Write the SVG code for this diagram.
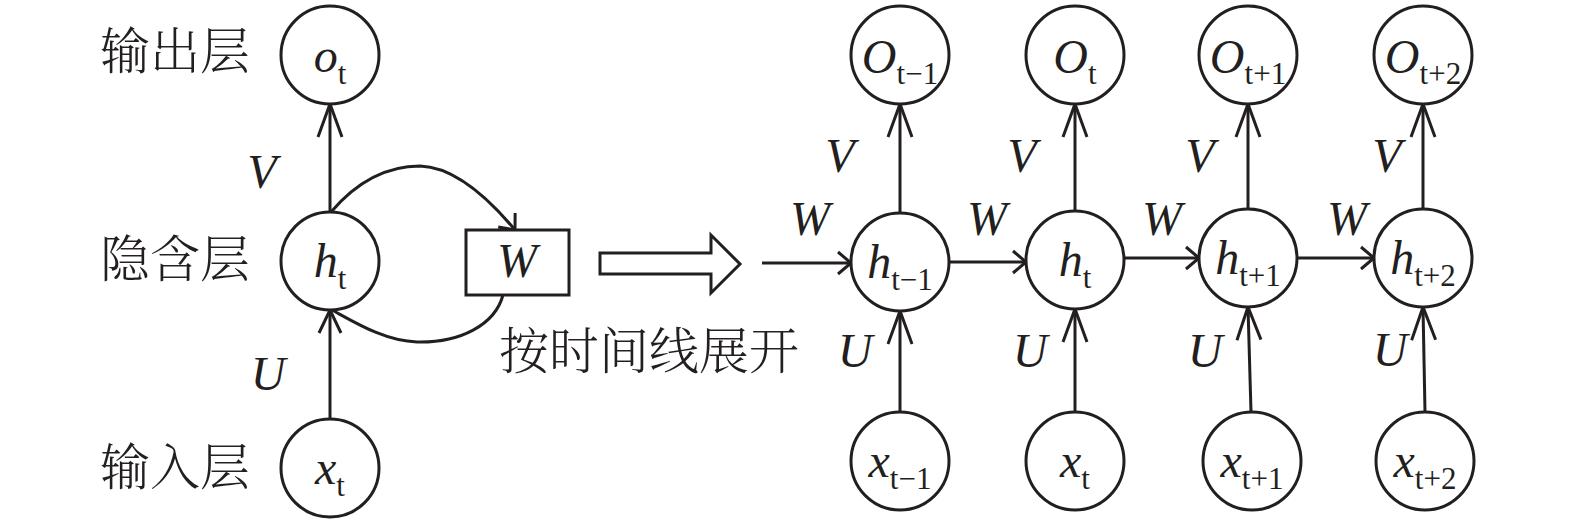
<svg xmlns="http://www.w3.org/2000/svg" width="1575" height="523" viewBox="0 0 1575 523">
<style>
.c{fill:#fff;stroke:#231f20;stroke-width:3}
.l{fill:none;stroke:#231f20;stroke-width:3}
.m{font-family:"Liberation Serif","Times New Roman",serif;font-style:italic;font-size:48px;fill:#231f20}
.s{font-family:"Liberation Serif","Times New Roman",serif;font-style:normal;font-size:31px}
.z{font-family:"Noto Serif CJK SC","Noto Sans CJK SC","Noto Sans CJK JP",sans-serif;font-size:50px;font-weight:300;fill:#231f20}
</style>
<defs>
<marker id="aL" markerUnits="userSpaceOnUse" orient="auto" refX="0" refY="0" markerWidth="40" markerHeight="30" overflow="visible"><path d="M-33,-12 L0,0 L-33,12" fill="none" stroke="#231f20" stroke-width="3"/></marker>
<marker id="aM" markerUnits="userSpaceOnUse" orient="auto" refX="0" refY="0" markerWidth="40" markerHeight="30" overflow="visible"><path d="M-23,-11 L0,0 L-23,11" fill="none" stroke="#231f20" stroke-width="3"/></marker>
<marker id="aS" markerUnits="userSpaceOnUse" orient="auto" refX="0" refY="0" markerWidth="30" markerHeight="30" overflow="visible"><path d="M-13,-11 L0,0 L-13,11" fill="none" stroke="#231f20" stroke-width="3"/></marker>
</defs>

<g id="labels">
<text class="z" x="100" y="69">输出层</text>
<text class="z" x="100" y="277">隐含层</text>
<text class="z" x="100" y="485">输入层</text>
<text class="z" x="499" y="369">按时间线展开</text>
</g>

<g id="connectors">
<line class="l" x1="330" y1="213" x2="330" y2="104" marker-end="url(#aL)"/>
<line class="l" x1="330" y1="418" x2="330" y2="310" marker-end="url(#aM)"/>
<path class="l" d="M331,212 C360,178 392,166 420,166 C455,167 490,200 515,230" marker-end="url(#aS)"/>
<path class="l" d="M503,295 C495,325 460,343 417,342 C385,341 356,323 332,310"/>
<polygon class="c" points="600,253 711,253 711,235 740,264 711,293 711,274 600,274"/>
<line class="l" x1="762" y1="263" x2="851" y2="263" marker-end="url(#aS)"/>
<line class="l" x1="949" y1="262" x2="1026" y2="262" marker-end="url(#aS)"/>
<line class="l" x1="1124" y1="258" x2="1199" y2="258" marker-end="url(#aS)"/>
<line class="l" x1="1297" y1="258" x2="1374" y2="258" marker-end="url(#aS)"/>
<line class="l" x1="900" y1="213" x2="900" y2="104" marker-end="url(#aL)"/>
<line class="l" x1="1075" y1="211" x2="1075" y2="104" marker-end="url(#aL)"/>
<line class="l" x1="1248" y1="209" x2="1248" y2="104" marker-end="url(#aL)"/>
<line class="l" x1="1423" y1="209" x2="1423" y2="104" marker-end="url(#aL)"/>
<line class="l" x1="900" y1="412" x2="900" y2="311" marker-end="url(#aL)"/>
<line class="l" x1="1075" y1="412" x2="1075" y2="309" marker-end="url(#aL)"/>
<line class="l" x1="1251" y1="412" x2="1248" y2="307" marker-end="url(#aL)"/>
<line class="l" x1="1425" y1="412" x2="1423" y2="307" marker-end="url(#aL)"/>
</g>

<g id="edge-labels">
<text class="m" x="262" y="188" text-anchor="middle">V</text>
<text class="m" x="268" y="390" text-anchor="middle">U</text>
<text class="m" x="840" y="172" text-anchor="middle">V</text>
<text class="m" x="1022" y="172" text-anchor="middle">V</text>
<text class="m" x="1200" y="172" text-anchor="middle">V</text>
<text class="m" x="1387" y="172" text-anchor="middle">V</text>
<text class="m" x="810" y="235" text-anchor="middle">W</text>
<text class="m" x="987" y="235" text-anchor="middle">W</text>
<text class="m" x="1162" y="235" text-anchor="middle">W</text>
<text class="m" x="1347" y="235" text-anchor="middle">W</text>
<text class="m" x="855" y="367" text-anchor="middle">U</text>
<text class="m" x="1030" y="367" text-anchor="middle">U</text>
<text class="m" x="1205" y="367" text-anchor="middle">U</text>
<text class="m" x="1390" y="366" text-anchor="middle">U</text>
</g>

<g id="node-W"><rect class="c" x="466" y="230" width="103" height="65"/><text class="m" x="517" y="277" text-anchor="middle">W</text></g>

<g id="node-o-left"><circle class="c" cx="330" cy="55" r="49"/><text class="m" x="330" y="72" text-anchor="middle">o<tspan class="s" dy="12">t</tspan></text></g>
<g id="node-h-left"><circle class="c" cx="330" cy="261" r="49"/><text class="m" x="330" y="277" text-anchor="middle">h<tspan class="s" dy="12">t</tspan></text></g>
<g id="node-x-left"><circle class="c" cx="330" cy="468" r="49"/><text class="m" x="330" y="484" text-anchor="middle">x<tspan class="s" dy="12">t</tspan></text></g>

<g id="node-O1"><circle class="c" cx="900" cy="55" r="49"/><text class="m" x="900" y="73" text-anchor="middle">O<tspan class="s" dy="11">t−1</tspan></text></g>
<g id="node-O2"><circle class="c" cx="1075" cy="55" r="49"/><text class="m" x="1075" y="73" text-anchor="middle">O<tspan class="s" dy="11">t</tspan></text></g>
<g id="node-O3"><circle class="c" cx="1248" cy="55" r="49"/><text class="m" x="1248" y="73" text-anchor="middle">O<tspan class="s" dy="11">t+1</tspan></text></g>
<g id="node-O4"><circle class="c" cx="1423" cy="55" r="49"/><text class="m" x="1423" y="73" text-anchor="middle">O<tspan class="s" dy="11">t+2</tspan></text></g>

<g id="node-h1"><circle class="c" cx="900" cy="262" r="49"/><text class="m" x="900" y="278" text-anchor="middle">h<tspan class="s" dy="12">t−1</tspan></text></g>
<g id="node-h2"><circle class="c" cx="1075" cy="260" r="49"/><text class="m" x="1075" y="276" text-anchor="middle">h<tspan class="s" dy="12">t</tspan></text></g>
<g id="node-h3"><circle class="c" cx="1248" cy="258" r="49"/><text class="m" x="1248" y="274" text-anchor="middle">h<tspan class="s" dy="12">t+1</tspan></text></g>
<g id="node-h4"><circle class="c" cx="1423" cy="258" r="49"/><text class="m" x="1423" y="274" text-anchor="middle">h<tspan class="s" dy="12">t+2</tspan></text></g>

<g id="node-x1"><circle class="c" cx="900" cy="461" r="49"/><text class="m" x="900" y="477" text-anchor="middle">x<tspan class="s" dy="12">t−1</tspan></text></g>
<g id="node-x2"><circle class="c" cx="1075" cy="461" r="49"/><text class="m" x="1075" y="477" text-anchor="middle">x<tspan class="s" dy="12">t</tspan></text></g>
<g id="node-x3"><circle class="c" cx="1252" cy="461" r="49"/><text class="m" x="1252" y="477" text-anchor="middle">x<tspan class="s" dy="12">t+1</tspan></text></g>
<g id="node-x4"><circle class="c" cx="1425" cy="461" r="49"/><text class="m" x="1425" y="477" text-anchor="middle">x<tspan class="s" dy="12">t+2</tspan></text></g>
</svg>
